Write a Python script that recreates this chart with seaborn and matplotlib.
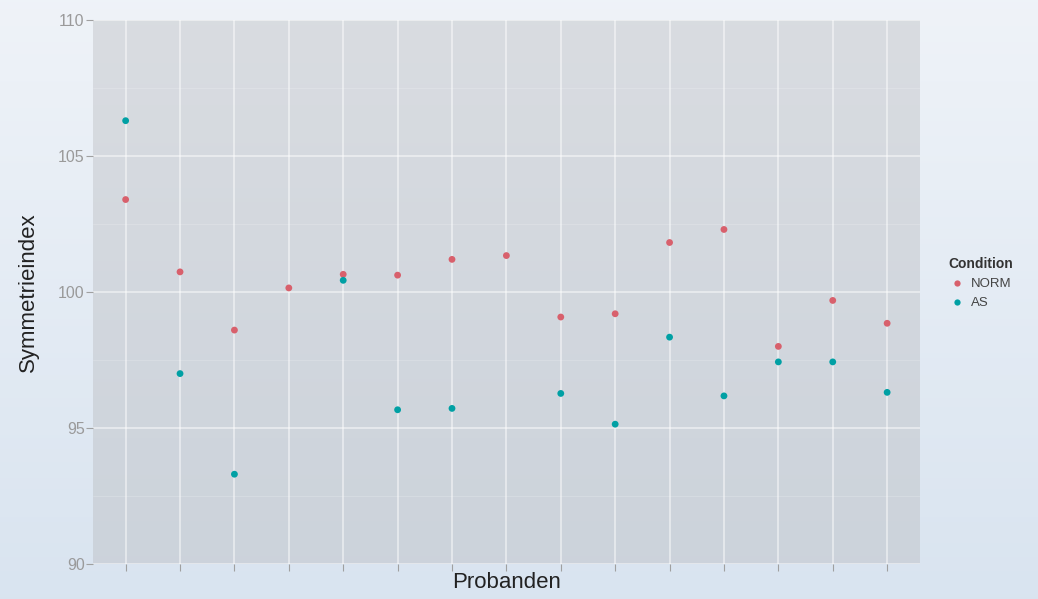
import numpy as np
import pandas as pd
import matplotlib
matplotlib.use("Agg")
import matplotlib.pyplot as plt
import seaborn as sns
from matplotlib.lines import Line2D

# values
probanden = [f"P{i}" for i in range(1, 16)]
norm_vals = [103.4, 100.74, 98.6, 100.15, 100.65, 100.62, 101.2, 101.34,
             99.08, 99.2, 101.82, 102.3, 98.0, 99.69, 98.85]
as_vals = [106.3, 97.0, 93.3, np.nan, 100.43, 95.67, 95.72, np.nan,
           96.27, 95.14, 98.34, 96.18, 97.43, 97.43, 96.31]
conditions = ["NORM", "AS"]
colors = {"NORM": "#D8606C", "AS": "#00A0A4"}

df = pd.DataFrame({
    "Probanden": probanden * 2,
    "Symmetrieindex": norm_vals + as_vals,
    "Condition": ["NORM"] * 15 + ["AS"] * 15,
})

sns.set_theme(style="white")
plt.rcParams['font.family'] = ['Liberation Sans', 'DejaVu Sans']

fig = plt.figure(figsize=(10.38, 5.99), dpi=100)

# figure background gradient
bg = fig.add_axes([0, 0, 1, 1], zorder=-10)
grad = np.linspace(0, 1, 256).reshape(-1, 1)
top_c = np.array([0.937, 0.953, 0.973])
bot_c = np.array([0.851, 0.894, 0.941])
img = top_c + (bot_c - top_c) * grad[:, :, None]
bg.imshow(img, aspect="auto", extent=[0, 1, 0, 1], origin="upper")
bg.set_axis_off()

ax = fig.add_axes([0.0896, 0.0585, 0.7965, 0.908])

# panel gradient
p_top = np.array([0.851, 0.863, 0.882])
p_bot = np.array([0.800, 0.827, 0.859])
pimg = p_top + (p_bot - p_top) * grad[:, :, None]
ax.imshow(pimg, aspect="auto", extent=[-0.6, 14.6, 90, 110], origin="upper", zorder=0)

sns.scatterplot(data=df, x="Probanden", y="Symmetrieindex", hue="Condition",
                hue_order=conditions, palette=colors, s=24, linewidth=0,
                ax=ax, zorder=3, legend=False)

ax.set_xlim(-0.6, 14.6)
ax.set_ylim(90, 110)
ax.set_yticks([90, 95, 100, 105, 110])
ax.set_yticks([92.5, 97.5, 102.5, 107.5], minor=True)
ax.set_xticks(range(15))
ax.set_xticklabels([""] * 15)
ax.grid(True, which="major", color="white", alpha=0.6, linewidth=1.1, zorder=1)
ax.grid(True, which="minor", axis="y", color="white", alpha=0.2, linewidth=0.6, zorder=1)
ax.set_axisbelow(True)
for sp in ax.spines.values():
    sp.set_visible(False)
ax.tick_params(axis="both", which="major", length=5, width=0.8, color="#a0a0a0",
               labelsize=11.5, labelcolor="#9a9a9a", pad=1, direction="out",
               bottom=True, left=True)
ax.tick_params(axis="y", which="minor", length=0)
ax.set_xlabel("Probanden", fontsize=16, color="#222222", labelpad=0)
ax.set_ylabel("Symmetrieindex", fontsize=16, color="#222222", labelpad=14)

# legend
handles = [Line2D([0], [0], marker="o", linestyle="", markersize=4.5,
                  markerfacecolor=colors[c], markeredgewidth=0) for c in conditions]
leg = fig.legend(handles, conditions, title="Condition", loc="upper left",
                 bbox_to_anchor=(0.902, 0.59), frameon=False, fontsize=9.5,
                 title_fontsize=10, handletextpad=0.3, labelspacing=0.5,
                 handlelength=1.4)
leg.get_title().set_fontweight("bold")
leg.get_title().set_color("#333333")
leg._legend_box.align = "left"
for t in leg.get_texts():
    t.set_color("#444444")

fig.savefig("out.png", dpi=100)
